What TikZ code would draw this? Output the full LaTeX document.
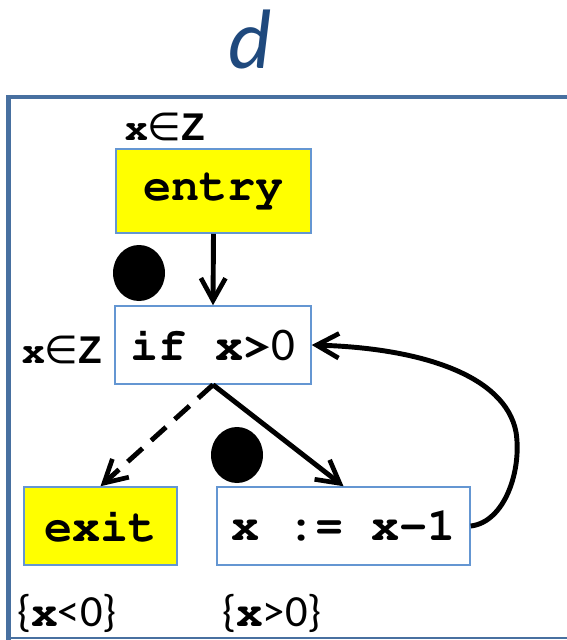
\documentclass[tikz,border=0pt]{standalone}
\usepackage[T1]{fontenc}
\usepackage{fontspec}
\usepackage{xcolor}
\usepackage{tikz}
\usetikzlibrary{arrows.meta, positioning}
\setmainfont{Carlito}
\newfontfamily\symfont{DejaVu Sans}
\newfontfamily\heavysans{Liberation Sans}
\definecolor{CFGBlue}{RGB}{31, 73, 125}
\definecolor{CFGFrame}{RGB}{72, 112, 160}
\definecolor{CFGEdge}{RGB}{100, 150, 210}
\definecolor{CFGYellow}{RGB}{255, 255, 0}
\newcommand{\courierbf}{\fontencoding{T1}\fontfamily{pcr}\fontseries{b}\selectfont}
\newcommand{\codex}{{\courierbf x}}
\newcommand{\xinZ}{\codex{\symfont ∈}{\heavysans\bfseries Z}}

\begin{document}
\begin{tikzpicture}[x=0.03cm, y=-0.03cm,
    cfgbox/.style={draw=CFGEdge, line width=1.3pt, inner sep=0pt, minimum height=2.34cm,
        font=\fontsize{40}{44}\courierbf},
    endbox/.style={cfgbox, fill=CFGYellow},
    flow/.style={line width=4.2pt, -{Straight Barb[length=19pt, width=21pt, line width=4pt]}},
    note/.style={inner sep=0pt, font=\fontsize{33}{36}\selectfont},
    fact/.style={inner sep=0pt, font=\fontsize{38}{42}\selectfont}]
        \useasboundingbox (0,0) rectangle (567,640);
        % Frame and title
        \draw[CFGFrame, line width=4pt] (580,97) -- (8.5,97) -- (8.5,642);
        \draw[CFGFrame, line width=1pt] (8.5,638) -- (580,638);
        \node[CFGBlue, font=\fontsize{72}{80}\selectfont\itshape] (title) at (250,40) {d};

        % Blocks
        \node[endbox, minimum width=5.85cm, minimum height=2.52cm] (entry) at (213.5,191) {entry};
        \node[cfgbox, minimum width=5.88cm] (cond) at (213,345) {if x>{\fontencoding{TU}\normalfont 0}};
        \node[endbox, minimum width=4.59cm] (exit) at (100.5,526) {exit};
        \node[cfgbox, minimum width=7.59cm] (dec) at (343.5,526) {x := x-1};

        % Edges
        \draw[flow] (entry.south) -- (cond.north);
        \draw[flow, dash pattern=on 17pt off 10pt] (cond.south) -- (exit.north);
        \draw[flow] (cond.south) -- (dec.north);
        \draw[flow] (dec.east) .. controls (505,522) and (522,470) .. (516,432)
            .. controls (505,375) and (420,348) .. (cond.east);

        % Tokens
        \fill (139,273) ellipse [x radius=0.78cm, y radius=0.84cm];
        \fill (237,455) ellipse [x radius=0.78cm, y radius=0.84cm];

        % Facts
        \node[note] (entryfact) at (165,127) {\xinZ};
        \node[note] (condfact) at (62,350) {\xinZ};
        \node[fact] (exitfact) at (67,613) {\{\codex<0\}};
        \node[fact] (decfact) at (272,613) {\{\codex>0\}};
    \end{tikzpicture}
\end{document}
